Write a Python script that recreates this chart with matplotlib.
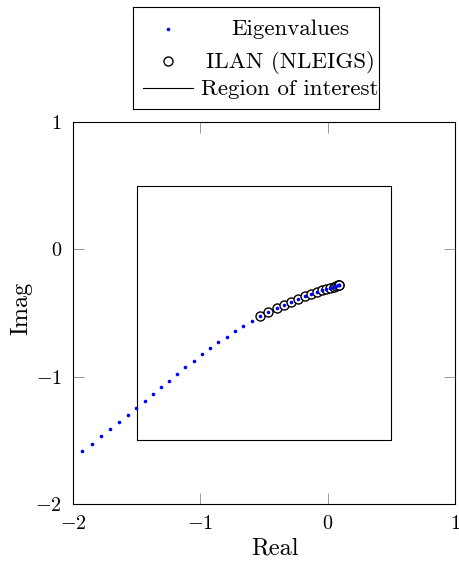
import numpy as np
import matplotlib.pyplot as plt
from matplotlib.lines import Line2D

plt.rcParams['font.family'] = 'serif'
plt.rcParams['font.serif'] = ['cmr10']
plt.rcParams['mathtext.fontset'] = 'cm'
plt.rcParams['axes.formatter.use_mathtext'] = True

# eigenvalues (real, imag)
eig_re = [-1.930, -1.851, -1.779, -1.706, -1.638, -1.570, -1.502, -1.437,
          -1.374, -1.309, -1.247, -1.182, -1.119, -1.053, -0.988, -0.923,
          -0.858, -0.793, -0.728, -0.662, -0.597, -0.532, -0.466, -0.401,
          -0.344, -0.287, -0.232, -0.180, -0.130, -0.086, -0.047, -0.010,
          0.021, 0.047, 0.068, 0.080, 0.088, 0.092]
eig_im = [-1.587, -1.527, -1.469, -1.414, -1.359, -1.304, -1.246, -1.191,
          -1.139, -1.084, -1.031, -0.976, -0.926, -0.874, -0.824, -0.776,
          -0.729, -0.685, -0.640, -0.600, -0.561, -0.527, -0.493, -0.464,
          -0.437, -0.411, -0.389, -0.370, -0.354, -0.339, -0.323, -0.312,
          -0.302, -0.294, -0.286, -0.283, -0.281, -0.280]

# ILAN (NLEIGS) found the ones on the right end of the curve
ilan_re = eig_re[21:]
ilan_im = eig_im[21:]

# region of interest corners
roi_re = [-1.5, 0.5, 0.5, -1.5, -1.5]
roi_im = [-1.5, -1.5, 0.5, 0.5, -1.5]

labels = ["Eigenvalues", "ILAN (NLEIGS)", "Region of interest"]

W, H = 460, 561
fig = plt.figure(figsize=(W / 100, H / 100), dpi=100)
ax = fig.add_axes([73 / W, 1 - 504 / H, 382 / W, 382 / H])

ax.plot(roi_re, roi_im, color="black", lw=0.8)
ax.plot(ilan_re, ilan_im, "o", mfc="white", mec="black", ms=6.5, mew=1.0)
ax.plot(eig_re, eig_im, ".", color="blue", ms=5.2, mew=0)

ax.set_xlim(-2, 1)
ax.set_ylim(-2, 1)
ax.set_xticks([-2, -1, 0, 1])
ax.set_yticks([-2, -1, 0, 1])
ax.tick_params(direction="in", length=8, width=0.6, color="#888888",
               labelsize=14.5, top=True, right=True, pad=8)
for s in ax.spines.values():
    s.set_linewidth(0.8)
ax.set_xlabel("Real", fontsize=17.5, va="baseline")
ax.xaxis.set_label_coords(0.528, -0.1335)
ax.set_ylabel("Imag", fontsize=17.5, va="center")
ax.yaxis.set_label_coords(-0.134, 0.512)

# legend box with centred text, like pgfplots
lax = fig.add_axes([133 / W, 1 - 109 / H, 246 / W, 102 / H])
lax.set_xlim(0, 1)
lax.set_ylim(0, 1)
lax.set_xticks([])
lax.set_yticks([])
for s in lax.spines.values():
    s.set_linewidth(0.8)
lax.add_line(Line2D([0.142], [0.784], marker=".", color="blue", ms=5.2, mew=0, ls=""))
lax.add_line(Line2D([0.142], [0.471], marker="o", mfc="white", mec="black", ms=6.5, mew=1.0, ls=""))
lax.add_line(Line2D([0.041, 0.244], [0.206, 0.206], color="black", lw=0.8))
for lab, yb in zip(labels, [0.725, 0.402, 0.137]):
    lax.text(0.638, yb, lab, ha="center", va="baseline", fontsize=16.5)

fig.savefig("out.png", dpi=100)
